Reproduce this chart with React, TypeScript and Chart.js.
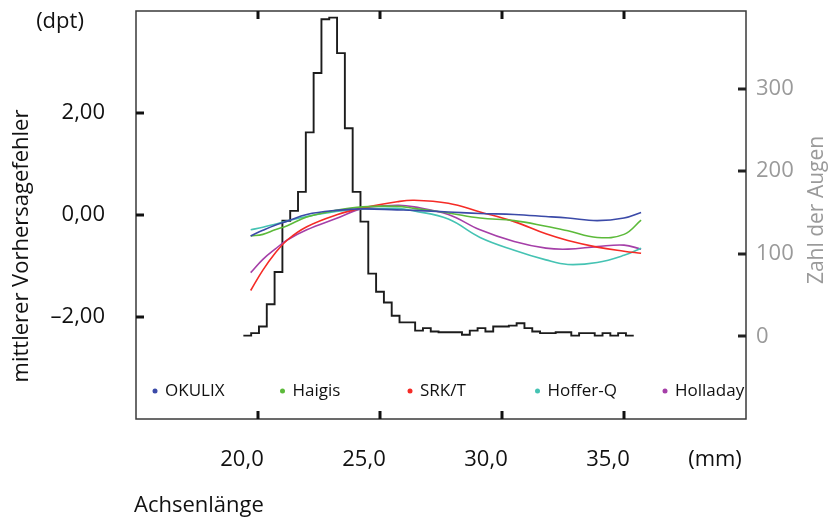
import React, { useEffect, useRef } from "react";
import { Chart, registerables } from "chart.js";

Chart.register(...registerables);

const FONT = "'Open Sans', 'Noto Sans', sans-serif";

// Axial length sample positions (mm) of the fitted error curves
const axialLength = [19.7, 20.2, 20.7, 21.2, 22.0, 23.2, 24.3, 25.7, 26.4, 27.8, 29.1, 30.5, 31.8, 32.7, 33.9, 35.0, 35.7];

// Mean prediction error (dpt) per formula
const okulix = [-0.41, -0.3, -0.2, -0.12, 0.01, 0.09, 0.12, 0.1, 0.09, 0.06, 0.03, 0.01, -0.03, -0.06, -0.11, -0.06, 0.05];
const haigis = [-0.41, -0.38, -0.29, -0.21, -0.04, 0.09, 0.16, 0.17, 0.13, 0.04, -0.06, -0.11, -0.22, -0.31, -0.44, -0.38, -0.1];
const srkt = [-1.48, -1.08, -0.75, -0.49, -0.23, 0.0, 0.14, 0.26, 0.29, 0.23, 0.06, -0.13, -0.37, -0.5, -0.63, -0.71, -0.75];
const hofferQ = [-0.29, -0.24, -0.18, -0.12, -0.03, 0.07, 0.12, 0.13, 0.08, -0.08, -0.44, -0.69, -0.88, -0.97, -0.93, -0.79, -0.65];
const holladay = [-1.13, -0.87, -0.67, -0.49, -0.29, -0.07, 0.13, 0.19, 0.16, 0.01, -0.29, -0.52, -0.65, -0.67, -0.62, -0.59, -0.67];

const seriesNames = ["OKULIX", "Haigis", "SRK/T", "Hoffer-Q", "Holladay"];
const seriesColors = ["#3b4aa8", "#5cba3a", "#f52b26", "#45c3b3", "#a53fa8"];
const seriesValues = [okulix, haigis, srkt, hofferQ, holladay];

// Histogram of eyes per axial-length bin
const binEdges = [19.4, 19.72, 20.04, 20.36, 20.68, 21.0, 21.32, 21.64, 21.96, 22.28, 22.6, 22.92, 23.24, 23.56, 23.88, 24.2, 24.52, 24.84, 25.16, 25.48, 25.8, 26.12, 26.44, 26.76, 27.08, 27.4, 27.72, 28.04, 28.36, 28.68, 29.0, 29.32, 29.64, 29.96, 30.28, 30.6, 30.92, 31.24, 31.56, 31.88, 32.2, 32.52, 32.84, 33.16, 33.48, 33.8, 34.12, 34.44, 34.76, 35.08, 35.4];
const eyeCounts = [1, 4, 12, 39, 78, 140, 152, 175, 247, 319, 384, 386, 343, 252, 175, 139, 76, 54, 41, 25, 17, 17, 7, 10, 6, 5, 5, 5, 2, 7, 10, 6, 12, 12, 13, 16, 10, 6, 4, 4, 5, 5, 1, 4, 4, 1, 4, 1, 4, 1];

const leftTicks = [-2, 0, 2];
const rightTicks = [0, 100, 200, 300];
const xTicks = [20, 25, 30, 35];

const fmtLeft = (v: number) => {
  const s = Math.abs(v).toFixed(2).replace(".", ",");
  return v < 0 ? "\u2013" + s : s;
};
const fmtX = (v: number) => v.toFixed(1).replace(".", ",");

const decorations = {
  id: "decorations",
  afterDatasetsDraw(chart: any) {
    const { ctx, chartArea: a, scales } = chart;
    ctx.save();
    ctx.strokeStyle = "#3a3a3a";
    ctx.lineWidth = 1.5;
    ctx.strokeRect(a.left, a.top, a.right - a.left, a.bottom - a.top);
    const seg = (x1: number, y1: number, x2: number, y2: number) => {
      ctx.beginPath();
      ctx.moveTo(x1, y1);
      ctx.lineTo(x2, y2);
      ctx.stroke();
    };
    ctx.lineWidth = 3;
    ctx.strokeStyle = "#111";
    for (const v of leftTicks) {
      const y = Math.round(scales.y.getPixelForValue(v));
      seg(a.left, y, a.left + 8, y);
    }
    ctx.strokeStyle = "#222";
    for (const v of rightTicks) {
      const y = Math.round(scales.y1.getPixelForValue(v));
      seg(a.right - 8, y, a.right, y);
    }
    ctx.strokeStyle = "#111";
    for (const v of xTicks) {
      const x = Math.round(scales.x.getPixelForValue(v));
      seg(x, a.top, x, a.top + 8);
      seg(x, a.bottom - 8, x, a.bottom);
    }
    ctx.font = `17px ${FONT}`;
    ctx.textBaseline = "middle";
    ctx.textAlign = "left";
    const ds = chart.data.datasets.filter((d: any) => d.isFormula);
    ds.forEach((d: any, i: number) => {
      const cx = 155 + i * 127.5;
      const cy = 391;
      ctx.fillStyle = d.borderColor;
      ctx.beginPath();
      ctx.arc(cx, cy, 2.5, 0, Math.PI * 2);
      ctx.fill();
      ctx.fillStyle = "#111";
      ctx.fillText(d.label, cx + 10, cy);
    });
    ctx.restore();
  },
  afterDraw(chart: any) {
    const { ctx } = chart;
    ctx.save();
    ctx.fillStyle = "#111";
    ctx.font = `22px ${FONT}`;
    ctx.textBaseline = "middle";
    ctx.textAlign = "center";
    ctx.fillText("(dpt)", 60, 22);
    ctx.fillText("(mm)", 715, 460);
    ctx.textAlign = "left";
    ctx.fillText("Achsenlänge", 134, 506);
    ctx.save();
    ctx.translate(22, 246);
    ctx.rotate(-Math.PI / 2);
    ctx.textAlign = "center";
    ctx.fillText("mittlerer Vorhersagefehler", 0, 0);
    ctx.restore();
    ctx.save();
    ctx.fillStyle = "#9a9a9a";
    ctx.font = `21px ${FONT}`;
    ctx.translate(817, 210);
    ctx.rotate(-Math.PI / 2);
    ctx.textAlign = "center";
    ctx.textBaseline = "middle";
    ctx.fillText("Zahl der Augen", 0, 0);
    ctx.restore();
    ctx.restore();
  },
};

const noPad = (s: any) => {
  s.paddingTop = 0;
  s.paddingBottom = 0;
  s.paddingLeft = 0;
  s.paddingRight = 0;
};

export default function App() {
  const ref = useRef<HTMLCanvasElement | null>(null);

  useEffect(() => {
    if (!ref.current) return;
    const formulaSets = seriesNames.map((name, i) => ({
      label: name,
      isFormula: true,
      data: axialLength.map((x, j) => ({ x, y: seriesValues[i][j] })),
      borderColor: seriesColors[i],
      backgroundColor: seriesColors[i],
      borderWidth: 1.6,
      pointRadius: 0,
      tension: 0.4,
      yAxisID: "y",
      order: 1,
    }));
    const histData = eyeCounts.map((c, i) => ({ x: binEdges[i], y: c }));
    histData.push({ x: binEdges[binEdges.length - 1], y: eyeCounts[eyeCounts.length - 1] });

    const chart = new Chart(ref.current, {
      type: "line",
      data: {
        datasets: [
          ...formulaSets,
          {
            label: "Zahl der Augen",
            data: histData,
            borderColor: "#1c1c1c",
            backgroundColor: "#1c1c1c",
            borderWidth: 1.9,
            pointRadius: 0,
            stepped: "before",
            tension: 0,
            yAxisID: "y1",
            order: 10,
          } as any,
        ],
      },
      options: {
        responsive: false,
        animation: false,
        devicePixelRatio: 1,
        layout: { padding: { top: 11, left: 0, right: 0, bottom: 0 } },
        plugins: { legend: { display: false }, tooltip: { enabled: false } },
        scales: {
          x: {
            type: "linear",
            min: 15,
            max: 40,
            afterBuildTicks: (s: any) => {
              s.ticks = xTicks.map((v) => ({ value: v }));
            },
            afterFit: (s: any) => {
              s.height = 100;
              noPad(s);
            },
            grid: { display: false, drawTicks: false },
            border: { display: false },
            ticks: {
              callback: (v: any) => fmtX(Number(v)),
              font: { family: FONT, size: 22 },
              color: "#111",
              padding: 28,
              labelOffset: -16,
              maxRotation: 0,
              autoSkip: false,
            },
          },
          y: {
            type: "linear",
            position: "left",
            min: -4,
            max: 4,
            afterBuildTicks: (s: any) => {
              s.ticks = leftTicks.map((v) => ({ value: v }));
            },
            afterFit: (s: any) => {
              s.width = 136;
              noPad(s);
            },
            grid: { display: false, drawTicks: false },
            border: { display: false },
            ticks: {
              callback: (v: any) => fmtLeft(Number(v)),
              font: { family: FONT, size: 22 },
              color: "#111",
              padding: 31,
            },
          },
          y1: {
            type: "linear",
            position: "right",
            min: -100,
            max: 394,
            afterBuildTicks: (s: any) => {
              s.ticks = rightTicks.map((v) => ({ value: v }));
            },
            afterFit: (s: any) => {
              s.width = 82;
              noPad(s);
            },
            grid: { display: false, drawTicks: false },
            border: { display: false },
            ticks: {
              callback: (v: any) => String(v),
              font: { family: FONT, size: 22 },
              color: "#9a9a9a",
              padding: 10,
            },
          },
        },
      } as any,
      plugins: [decorations],
    });
    return () => chart.destroy();
  }, []);

  return (
    <div style={{ position: "absolute", left: 0, top: 0, width: 828, height: 519, background: "#fff" }}>
      <canvas ref={ref} width={828} height={519} />
    </div>
  );
}
